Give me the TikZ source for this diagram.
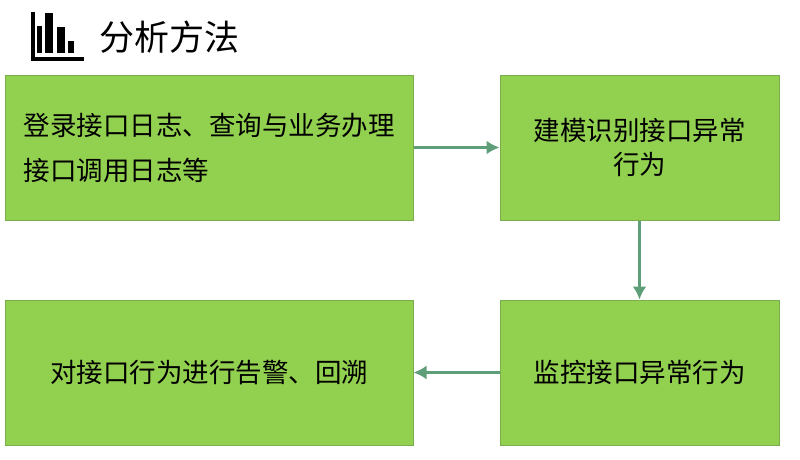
\documentclass[tikz,border=0pt]{standalone}
\usepackage{fontspec}
\newfontfamily\cjk{Noto Sans CJK SC}
\usetikzlibrary{positioning}
\usetikzlibrary{arrows.meta}
\definecolor{boxgreen}{HTML}{92D050}
\definecolor{boxline}{HTML}{7AAE4A}
\definecolor{arrowgreen}{HTML}{5E9E78}
\tikzset{
  stepbox/.style={draw=boxline, line width=1pt, fill=boxgreen, inner sep=0pt,
    font=\cjk\fontsize{26.5}{34}\selectfont, align=center},
  flow/.style={draw=arrowgreen, line width=3pt, -{Latex[length=13pt,width=14pt]}}
}
\begin{document}
\begin{tikzpicture}[x=1pt, y=-1pt]
        \useasboundingbox (0,0) rectangle (800,460);
        % title with chart icon
        \draw[line width=3.5pt] (33,12) -- (33,59) -- (84,59);
        \fill (37,26) rectangle (42,53);
        \fill (45,13) rectangle (53,53);
        \fill (57,27) rectangle (65,53);
        \fill (68,41) rectangle (74,53);
        \node[anchor=west, font=\cjk\fontsize{35}{36}\selectfont] (title) at (96,37) {分析方法};
        % steps
        \node[stepbox, minimum width=408pt, minimum height=145pt, align=left,
          font=\cjk\fontsize{26.5}{45}\selectfont] (S1) at (209,147.5)
          {登录接口日志、查询与业务办理\\接口调用日志等};
        \node[stepbox, minimum width=279pt, minimum height=145pt] (S2) at (639.5,147.5)
          {建模识别接口异常\\行为};
        \node[stepbox, minimum width=279pt, minimum height=145pt] (S3) at (639.5,372.5)
          {监控接口异常行为};
        \node[stepbox, minimum width=408pt, minimum height=145pt] (S4) at (209,372.5)
          {对接口行为进行告警、回溯};
        \draw[flow] (S1) -- (S2);
        \draw[flow] (S2) -- (S3);
        \draw[flow] (S3) -- (S4);
\end{tikzpicture}
\end{document}
